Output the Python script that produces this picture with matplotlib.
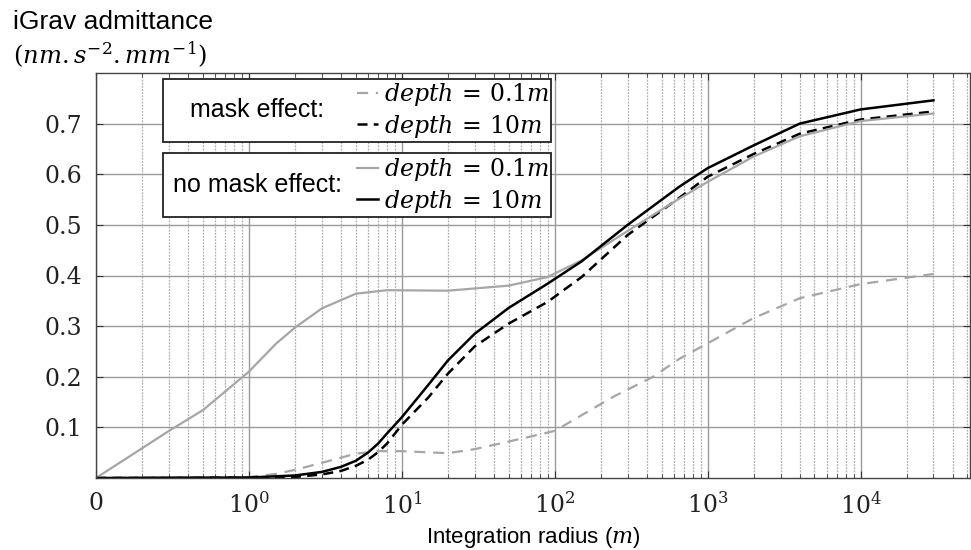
import matplotlib.pyplot as plt
import numpy as np
from matplotlib.patches import Rectangle
from matplotlib.ticker import LogLocator, FixedLocator, FixedFormatter, NullFormatter

plt.rcParams['mathtext.fontset'] = 'dejavuserif'

# no mask effect, depth = 0.1m (gray solid)
r_nomask_01 = [0.1, 0.3, 0.5, 1, 1.5, 2, 3, 5, 8, 20, 50, 90, 150, 300, 600, 1000, 2000, 4000, 10000, 30000]
y_nomask_01 = [0, 0.093, 0.134, 0.21, 0.265, 0.297, 0.335, 0.364, 0.371, 0.37, 0.38, 0.397, 0.43, 0.488, 0.545,
               0.585, 0.635, 0.675, 0.705, 0.72]

# no mask effect, depth = 10m (black solid)
r_nomask_10 = [0.1, 1, 2, 3, 4, 5, 6, 7, 8, 10, 15, 20, 30, 50, 90, 150, 300, 650, 1000, 2000, 4000, 10000, 30000]
y_nomask_10 = [0, 0.001, 0.005, 0.012, 0.022, 0.034, 0.05, 0.068, 0.088, 0.12, 0.185, 0.232, 0.285, 0.336, 0.384,
               0.428, 0.50, 0.575, 0.612, 0.657, 0.70, 0.728, 0.746]

# mask effect, depth = 10m (black dashed)
r_mask_10 = [0.1, 1, 2, 3, 4, 5, 6, 7, 8, 10, 15, 20, 30, 50, 90, 150, 300, 650, 1000, 2000, 4000, 10000, 30000]
y_mask_10 = [0, 0.0, 0.002, 0.007, 0.014, 0.024, 0.036, 0.051, 0.068, 0.105, 0.16, 0.206, 0.26, 0.305, 0.348,
             0.397, 0.48, 0.553, 0.595, 0.64, 0.68, 0.708, 0.724]

# mask effect, depth = 0.1m (gray dashed)
r_mask_01 = [0.1, 1, 1.5, 2, 3, 5, 7, 10, 20, 30, 50, 100, 240, 440, 650, 1000, 2000, 4000, 10000, 30000]
y_mask_01 = [0, 0.002, 0.008, 0.016, 0.03, 0.048, 0.053, 0.053, 0.049, 0.057, 0.072, 0.093, 0.16, 0.2, 0.235,
             0.266, 0.316, 0.355, 0.383, 0.403]

xtick_vals = [0.1, 1, 10, 100, 1000, 10000]
xtick_labels = ['0', r'$10^{0}$', r'$10^{1}$', r'$10^{2}$', r'$10^{3}$', r'$10^{4}$']
ytick_vals = [0.1, 0.2, 0.3, 0.4, 0.5, 0.6, 0.7]

gray = '#a6a6a6'

fig = plt.figure(figsize=(9.71, 5.5), dpi=100)
ax = fig.add_axes([96 / 971, 72 / 550, 874 / 971, 405 / 550])

ax.set_xscale('log')
ax.set_xlim(0.1, 5.2e4)
ax.set_ylim(0, 0.8)

l1, = ax.plot(r_mask_01, y_mask_01, color=gray, lw=1.6, dashes=(5, 3.5))
l2, = ax.plot(r_mask_10, y_mask_10, color='black', lw=1.8, dashes=(4, 2.5))
l3, = ax.plot(r_nomask_01, y_nomask_01, color=gray, lw=1.6)
l4, = ax.plot(r_nomask_10, y_nomask_10, color='black', lw=1.8)

ax.xaxis.set_major_locator(FixedLocator(xtick_vals))
ax.xaxis.set_major_formatter(FixedFormatter(xtick_labels))
ax.xaxis.set_minor_locator(LogLocator(base=10, subs=np.arange(2, 10), numticks=20))
ax.xaxis.set_minor_formatter(NullFormatter())
ax.set_yticks(ytick_vals)
ax.set_yticklabels([f'{v:.1f}' for v in ytick_vals])

ax.tick_params(which='both', direction='in', top=True, right=True, colors='#333333',
               labelcolor='#222222')
ax.tick_params(which='major', length=5, labelsize=17, pad=10)
ax.tick_params(which='minor', length=3)
for lab in ax.get_xticklabels() + ax.get_yticklabels():
    lab.set_family('DejaVu Serif')

ax.grid(True, which='major', color='#9a9a9a', lw=1.0)
ax.grid(True, which='minor', axis='x', color='#b0b0b0', lw=0.9, linestyle=(0, (1.5, 1)))
ax.set_axisbelow(True)
for s in ax.spines.values():
    s.set_color('#444444')
    s.set_linewidth(1.0)

ax.set_xlabel(r'Integration radius ($m$)', fontsize=16, family='Liberation Sans', labelpad=5)
fig.text(13 / 971, 1 - 22 / 550, 'iGrav admittance', fontsize=19, family='Liberation Sans',
         va='center', ha='left')
fig.text(13 / 971, 1 - 55 / 550, r'$(nm.s^{-2}.mm^{-1})$', fontsize=17.5, va='center', ha='left')

# legend boxes
for (y0, y1) in [(0.830, 0.985), (0.644, 0.802)]:
    ax.add_patch(Rectangle((0.0767, y0), 0.5206 - 0.0767, y1 - y0, transform=ax.transAxes,
                           facecolor='white', edgecolor='#222222', lw=1.3, zorder=5))
ax.text(0.184, 0.908, 'mask effect:', transform=ax.transAxes, fontsize=18, family='Liberation Sans',
        ha='center', va='center', zorder=6)
ax.text(0.185, 0.723, 'no mask effect:', transform=ax.transAxes, fontsize=18, family='Liberation Sans',
        ha='center', va='center', zorder=6)

leg_kw = dict(loc='center left', frameon=False, borderpad=0, borderaxespad=0, handlelength=0.9,
              handletextpad=0.25, labelspacing=0.2, fontsize=17)
leg1 = ax.legend([l1, l2], [r'$depth\,=\,0.1m$', r'$depth\,=\,10m$'], bbox_to_anchor=(0.2986, 0.908), **leg_kw)
leg1.set_zorder(7)
ax.add_artist(leg1)
leg2 = ax.legend([l3, l4], [r'$depth\,=\,0.1m$', r'$depth\,=\,10m$'], bbox_to_anchor=(0.2986, 0.723), **leg_kw)
leg2.set_zorder(7)

fig.savefig('out.png', dpi=100)
